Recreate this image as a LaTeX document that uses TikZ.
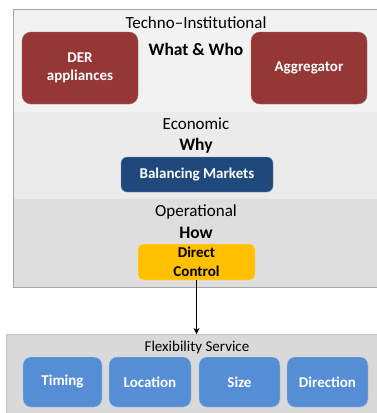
\documentclass[tikz,border=0pt]{standalone}
\usepackage{fontspec}
\setmainfont{Carlito}
\usetikzlibrary{arrows.meta}
\definecolor{derred}{HTML}{953735}
\definecolor{bmblue}{HTML}{1F497D}
\definecolor{flexblue}{HTML}{558ED5}
\definecolor{dcyellow}{HTML}{FFC000}
\definecolor{techbg}{HTML}{F2F2F2}
\definecolor{econbg}{HTML}{EBEBEB}
\definecolor{operbg}{HTML}{DEDEDE}
\definecolor{flexbg}{HTML}{D9D9D9}
\definecolor{panelline}{HTML}{A6A6A6}
\tikzset{
  redbox/.style={fill=derred, draw=derred!80!white, rounded corners=9pt, text=white,
    font=\fontsize{15}{18}\selectfont\bfseries, align=center, minimum width=116pt, minimum height=72pt, inner sep=0pt},
  bmbox/.style={fill=bmblue, draw=bmblue!60!white, rounded corners=6pt, text=white,
    font=\fontsize{15}{18}\selectfont\bfseries, minimum width=152pt, minimum height=35pt, inner sep=0pt},
  dcbox/.style={fill=dcyellow, draw=dcyellow!50!white, rounded corners=5pt, text=black,
    font=\fontsize{15}{19}\selectfont\bfseries, align=center, minimum width=117pt, minimum height=36pt, inner sep=0pt},
  flexbox/.style={fill=flexblue, draw=flexblue!50!white, rounded corners=8pt, text=white,
    font=\fontsize{15}{18}\selectfont\bfseries, minimum height=50pt, inner sep=0pt},
  seclabel/.style={anchor=base, inner sep=0pt, font=\fontsize{17}{20}\selectfont},
  seclabelb/.style={anchor=base, inner sep=0pt, font=\fontsize{17.5}{20}\selectfont\bfseries},
}
\begin{document}
\begin{tikzpicture}[x=1pt,y=-1pt]
\useasboundingbox (0,0) rectangle (377,413);
% top panel
\fill[techbg] (13,9) rectangle (378,112);
\fill[econbg] (13,112) rectangle (378,199);
\fill[operbg] (13,199) rectangle (378,287.5);
\draw[panelline, line width=0.8pt] (378,9) -- (13,9) -- (13,287.5) -- (378,287.5);
% bottom panel
\fill[flexbg] (6,334) rectangle (378,414);
\draw[panelline!70!white, line width=0.8pt] (6,414) -- (6,334) -- (378,334);

% labels
\node[seclabel] (tech) at (196,28) {Techno–Institutional};
\node[seclabelb] (what) at (196,55) {What \& Who};
\node[seclabel] (econ) at (196,129) {Economic};
\node[seclabelb] (why) at (196,150) {Why};
\node[seclabel] (oper) at (196,216.5) {Operational};
\node[seclabelb] (how) at (196,238) {How};
\node[anchor=base, inner sep=0pt, font=\fontsize{15}{18}\selectfont] (flex) at (197,351) {Flexibility Service};

% boxes
\node[redbox] (der) at (80,68) {DER\\appliances};
\node[redbox] (agg) at (309,68) {Aggregator};
\node[bmbox] (bm) at (197,174.5) {Balancing Markets};
\node[dcbox] (dc) at (196.5,262) {Direct\\Control};
\node[flexbox, minimum width=79pt] (timing) at (62.5,382) {Timing};
\node[flexbox, minimum width=82pt] (loc) at (150,382) {Location};
\node[flexbox, minimum width=81pt] (size) at (239.5,382) {Size};
\node[flexbox, minimum width=81pt] (dir) at (327.5,382) {Direction};

% arrow
\coordinate (arrend) at (196.5,334);
\draw[-{Stealth[length=6pt,width=6pt]}, line width=0.6pt] (dc.south) -- (arrend);
\end{tikzpicture}
\end{document}
